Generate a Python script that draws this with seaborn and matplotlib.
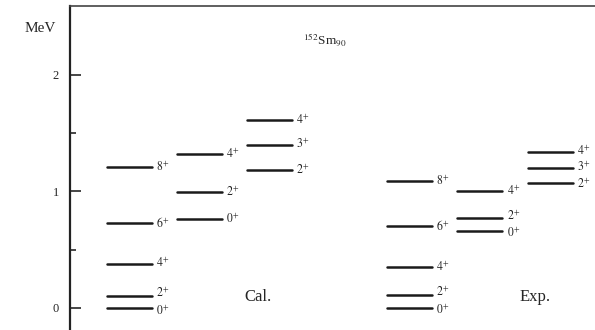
"""
Level scheme of 152Sm: calculated vs experimental bands.
"""

import pandas as pd
import matplotlib.pyplot as plt
import seaborn as sns

# energies in MeV
cal_ground = [0.00, 0.10, 0.38, 0.73, 1.21]
cal_beta = [0.76, 0.99, 1.32]
cal_gamma = [1.18, 1.40, 1.61]
exp_ground = [0.00, 0.11, 0.35, 0.70, 1.09]
exp_beta = [0.66, 0.77, 1.00]
exp_gamma = [1.07, 1.20, 1.34]

ground_spins = ["0", "2", "4", "6", "8"]
beta_spins = ["0", "2", "4"]
gamma_spins = ["2", "3", "4"]

y_ticks = [0, 1, 2]


def main():
    sns.set_theme(style="white")
    plt.rcParams["font.family"] = ["Liberation Serif", "DejaVu Serif"]
    plt.rcParams["mathtext.fontset"] = "stix"

    # band slot on the x axis (layout only)
    bands = [
        ("cal_g", cal_ground, ground_spins, 0),
        ("cal_b", cal_beta, beta_spins, 1),
        ("cal_y", cal_gamma, gamma_spins, 2),
        ("exp_g", exp_ground, ground_spins, 4),
        ("exp_b", exp_beta, beta_spins, 5),
        ("exp_y", exp_gamma, gamma_spins, 6),
    ]
    half = 0.32
    min_gap = 0.15  # spread labels of close-lying levels apart

    rows = []
    labels = []
    for name, energies, spins, slot in bands:
        pos = list(energies)
        for i in range(len(pos) - 1):
            gap = energies[i + 1] - energies[i]
            if gap < min_gap:
                pos[i] -= (min_gap - gap) / 2
                pos[i + 1] += (min_gap - gap) / 2
        for e, p, j in zip(energies, pos, spins):
            uid = f"{name}_{j}"
            rows.append({"x": slot - half, "E": e, "level": uid})
            rows.append({"x": slot + half, "E": e, "level": uid})
            labels.append((slot + half + 0.06, p, j))
    df = pd.DataFrame(rows)

    fig = plt.figure(figsize=(5.95, 3.30), dpi=100)
    ax = fig.add_axes([0.118, 0.0, 0.882, 0.982])

    sns.lineplot(data=df, x="x", y="E", units="level", estimator=None,
                 color="#1a1a1a", linewidth=1.8, ax=ax, legend=False)

    for x, p, j in labels:
        ax.text(x, p, rf"${j}^{{+}}$", fontsize=8.5, va="center", ha="left",
                color="#222222")

    ax.text(1.83, 0.09, "Cal.", fontsize=12, ha="center", va="center")
    ax.text(5.79, 0.09, "Exp.", fontsize=12, ha="center", va="center")
    ax.text(2.79, 2.30, r"$^{152}$Sm$_{90}$", fontsize=9.5, ha="center",
            va="center")

    ax.set_xlim(-0.84, 6.64)
    ax.set_ylim(-0.19, 2.59)
    ax.set_xlabel("")
    ax.set_ylabel("")
    ax.set_xticks([])
    ax.set_yticks(y_ticks)
    ax.set_yticks([0.5, 1.5], minor=True)
    ax.tick_params(axis="y", which="major", direction="in", length=8,
                   width=1.2, labelsize=9, pad=8, left=True)
    ax.tick_params(axis="y", which="minor", direction="in", length=4,
                   width=1.2, left=True)

    for side in ["right", "bottom"]:
        ax.spines[side].set_visible(False)
    ax.spines["left"].set_color("#222222")
    ax.spines["left"].set_linewidth(1.6)
    ax.spines["top"].set_color("#444444")
    ax.spines["top"].set_linewidth(1.2)

    fig.text(0.068, 0.915, "MeV", fontsize=11, ha="center", va="center")

    fig.savefig("out.png", dpi=100)


if __name__ == "__main__":
    main()
